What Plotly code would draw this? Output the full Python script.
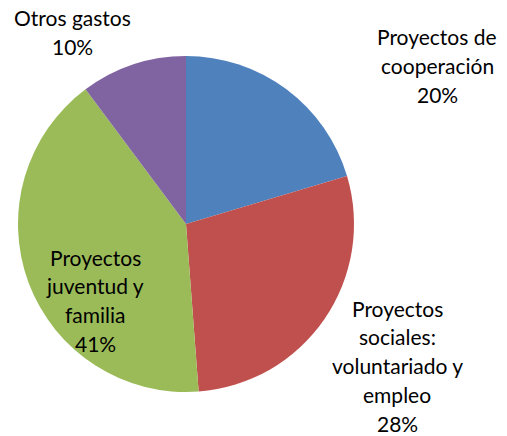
import plotly.graph_objects as go

categories = ["Proyectos de cooperación", "Proyectos sociales: voluntariado y empleo",
              "Proyectos juventud y familia", "Otros gastos"]
label_lines = [["Proyectos de", "cooperación"],
               ["Proyectos", "sociales:", "voluntariado y", "empleo"],
               ["Proyectos", "juventud y", "familia"],
               ["Otros gastos"]]
values = [20.4, 28.4, 41.0, 10.2]
colors = ["#4F81BD", "#C0504D", "#9BBB59", "#8064A2"]

W, H = 507, 436
cx, cy, r = 186, 224, 168

fig = go.Figure(go.Pie(
    labels=categories, values=values, sort=False, direction="clockwise", rotation=0,
    marker=dict(colors=colors, line=dict(width=0)), textinfo="none",
    domain=dict(x=[(cx - r) / W, (cx + r) / W], y=[(H - cy - r) / H, (H - cy + r) / H]),
    showlegend=False,
))

# label anchor positions (pixels, center of first line) and line spacing
anchors = [(437, 37), (397, 308), (95, 257), (72, 18)]
spacing = 28.8
total = sum(values)
annotations = []
for lines, v, (ax, ay) in zip(label_lines, values, anchors):
    pct = f"{round(v / total * 100):.0f}%"
    for i, t in enumerate(lines + [pct]):
        y = ay + i * spacing
        annotations.append(dict(
            x=ax / W, y=1 - y / H, xref="paper", yref="paper", text=t, showarrow=False,
            xanchor="center", yanchor="middle",
            font=dict(family="Lato", size=21, color="#000000")))

fig.update_layout(width=W, height=H, margin=dict(l=0, r=0, t=0, b=0),
                  paper_bgcolor="white", plot_bgcolor="white", annotations=annotations)
fig.write_html("out.html", config={"displayModeBar": False},
               post_script="document.body.style.margin='0';document.body.style.overflow='hidden';")
